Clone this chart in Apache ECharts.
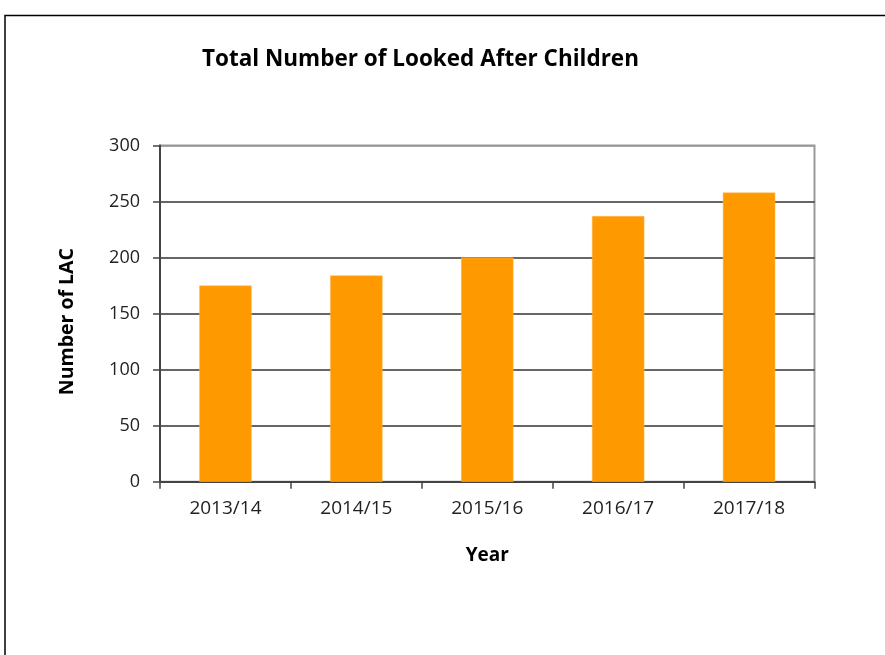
<!DOCTYPE html>
<html>
<head>
<meta charset="utf-8">
<script src="https://cdn.jsdelivr.net/npm/echarts@6/dist/echarts.min.js"></script>
<style>
html,body{margin:0;padding:0;background:#fff;}
#chart{width:885px;height:655px;}
</style>
</head>
<body>
<div id="chart"></div>
<script>
const categories = ['2013/14', '2014/15', '2015/16', '2016/17', '2017/18'];
const lacValues = [175, 184, 200, 237, 258];
const yTicks = [0, 50, 100, 150, 200, 250, 300];

const chart = echarts.init(document.getElementById('chart'), null, {renderer: 'canvas'});
const font = 'Open Sans';
chart.setOption({
  backgroundColor: '#fff',
  animation: false,
  title: {
    text: 'Total Number of Looked After Children',
    left: 197, top: 43,
    textStyle: {fontFamily: font, fontWeight: 'bold', fontSize: 22.5, color: '#000'}
  },
  graphic: [{
    type: 'polyline',
    shape: {points: [[5, 660], [5, 15.5], [890, 15.5]]},
    style: {stroke: '#000', lineWidth: 1.5, fill: null}
  }],
  grid: {
    left: 160, top: 145.5, right: 70.5, bottom: 173.3,
    show: true, borderColor: '#999', borderWidth: 2, backgroundColor: 'transparent'
  },
  xAxis: {
    type: 'category',
    data: categories,
    name: 'Year',
    nameLocation: 'middle',
    nameGap: 64,
    nameTextStyle: {fontFamily: font, fontWeight: 'bold', fontSize: 19, color: '#000', verticalAlign: 'top'},
    axisLine: {show: true, lineStyle: {color: '#444', width: 2}},
    axisTick: {show: true, length: 7, lineStyle: {color: '#444', width: 1.5}},
    axisLabel: {fontFamily: font, fontSize: 19, color: '#222', margin: 17}
  },
  yAxis: {
    type: 'value',
    min: yTicks[0], max: yTicks[yTicks.length - 1], interval: 50,
    name: 'Number of LAC',
    nameLocation: 'middle',
    nameGap: 83,
    nameTextStyle: {fontFamily: font, fontWeight: 'bold', fontSize: 19.5, color: '#000', padding: [0, 16, 0, 0]},
    axisLine: {show: true, lineStyle: {color: '#444', width: 2}},
    axisTick: {show: true, length: 7, lineStyle: {color: '#444', width: 1.5}},
    axisLabel: {fontFamily: font, fontSize: 18, color: '#222', margin: 20},
    splitLine: {show: true, lineStyle: {color: ['#333', '#333', '#333', '#333', '#333', '#333', '#999'], width: 1.5}}
  },
  series: [{
    type: 'bar',
    data: lacValues,
    barWidth: '40%',
    itemStyle: {color: '#FF9900', borderColor: '#FFB84D', borderWidth: 0.5}
  }]
});
</script>
</body>
</html>
